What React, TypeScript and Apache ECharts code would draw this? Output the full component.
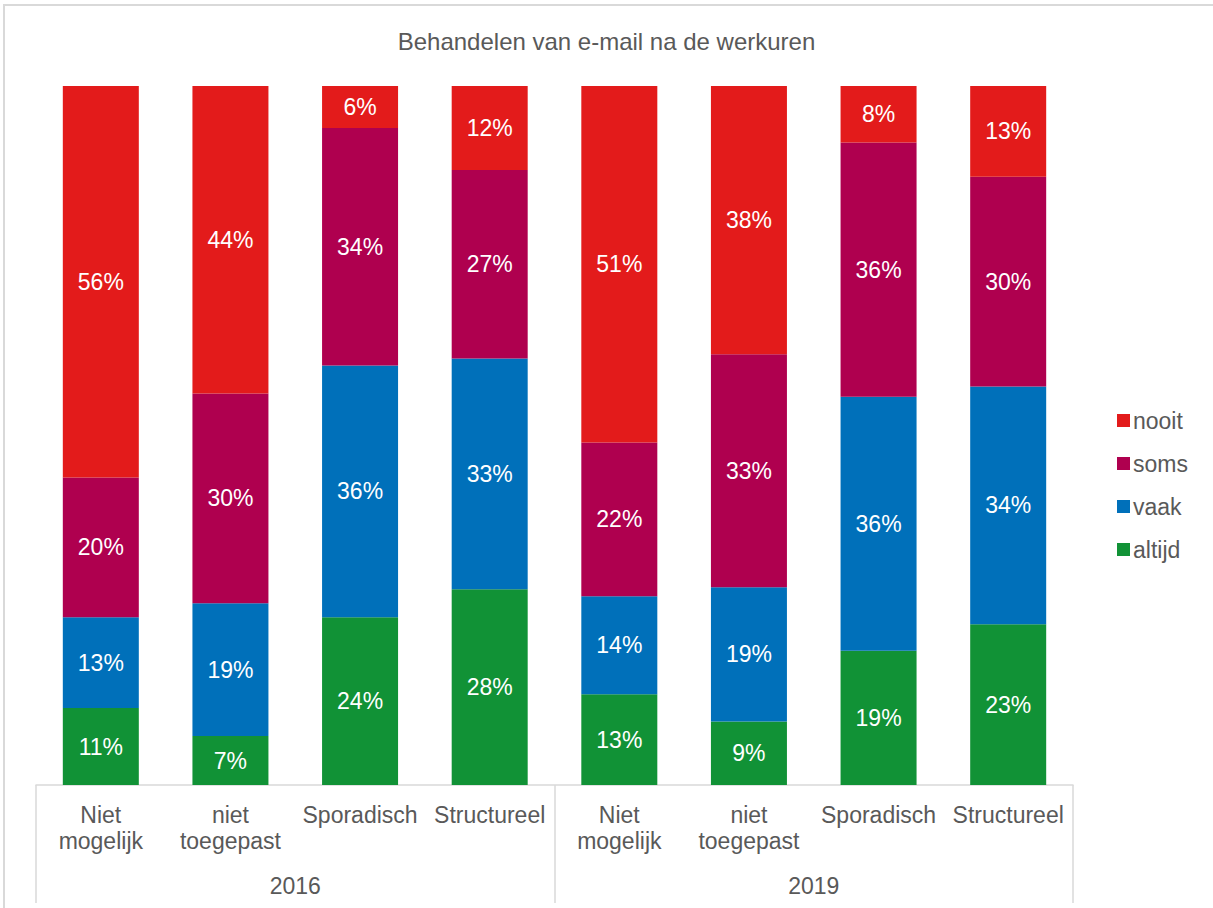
import React, { useEffect, useRef } from "react";
import * as echarts from "echarts";

const categories = [
  "Niet\nmogelijk",
  "niet\ntoegepast",
  "Sporadisch",
  "Structureel",
  "Niet\nmogelijk",
  "niet\ntoegepast",
  "Sporadisch",
  "Structureel",
];
const years = ["2016", "2019"];

const altijd = [11, 7, 24, 28, 13, 9, 19, 23];
const vaak = [13, 19, 36, 33, 14, 19, 36, 34];
const soms = [20, 30, 34, 27, 22, 33, 36, 30];
const nooit = [56, 44, 6, 12, 51, 38, 8, 13];

const seriesDefs = [
  { name: "altijd", data: altijd, color: "#119236" },
  { name: "vaak", data: vaak, color: "#0070BA" },
  { name: "soms", data: soms, color: "#AF004F" },
  { name: "nooit", data: nooit, color: "#E31B1B" },
];

const TEXT = "#595959";
const FONT = "Liberation Sans, Arial, sans-serif";
const FS = 23;

export default function App() {
  const ref = useRef<HTMLDivElement>(null);

  useEffect(() => {
    if (!ref.current) return;
    const chart = echarts.init(ref.current, null, { renderer: "svg" });
    const totals = categories.map((_, i) =>
      seriesDefs.reduce((s, d) => s + d.data[i], 0)
    );
    chart.setOption({
      animation: false,
      backgroundColor: "#ffffff",
      textStyle: { fontFamily: FONT },
      title: {
        text: "Behandelen van e-mail na de werkuren",
        left: "center",
        top: 24,
        padding: [5, 5, 5, 19],
        textStyle: { color: TEXT, fontSize: 24, fontWeight: "normal", fontFamily: FONT },
      },
      graphic: [
        {
          type: "rect",
          shape: { x: 4, y: 5, width: 1220, height: 920 },
          style: { fill: "none", stroke: "#d9d9d9", lineWidth: 2 },
          silent: true,
        },
      ],
      legend: {
        orient: "vertical",
        left: 1117,
        top: 409,
        padding: 0,
        itemWidth: 13,
        itemHeight: 13,
        itemGap: 20,
        icon: "rect",
        data: ["nooit", "soms", "vaak", "altijd"],
        textStyle: { color: TEXT, fontSize: FS, fontFamily: FONT, padding: [0, 0, 0, -2] },
      },
      grid: { left: 36, right: 140, top: 86, bottom: 123, containLabel: false },
      xAxis: [
        {
          type: "category",
          data: categories,
          position: "bottom",
          axisLine: { show: true, lineStyle: { color: "#d9d9d9", width: 1.5 } },
          axisTick: { show: false },
          axisLabel: {
            interval: 0,
            color: TEXT,
            fontSize: FS,
            lineHeight: 26,
            margin: 17,
            fontFamily: FONT,
          },
        },
        {
          type: "category",
          data: years,
          position: "bottom",
          axisLine: { show: false },
          axisTick: {
            show: true,
            length: 118,
            interval: 0,
            lineStyle: { color: "#d9d9d9", width: 1.5 },
          },
          axisLabel: { color: TEXT, fontSize: FS, margin: 89, fontFamily: FONT },
        },
      ],
      yAxis: {
        type: "value",
        min: 0,
        max: 100,
        show: false,
        splitLine: { show: false },
      },
      series: seriesDefs.map((d) => ({
        name: d.name,
        type: "bar",
        stack: "total",
        xAxisIndex: 0,
        barWidth: 76,
        itemStyle: { color: d.color },
        data: d.data.map((v, i) => (v / totals[i]) * 100),
        label: {
          show: true,
          position: "inside",
          color: "#ffffff",
          fontSize: FS,
          fontFamily: FONT,
          formatter: (p: any) => `${d.data[p.dataIndex]}%`,
        },
      })),
    });
    return () => chart.dispose();
  }, []);

  return (
    <div
      ref={ref}
      style={{ position: "absolute", left: 0, top: 0, width: 1213, height: 908 }}
    />
  );
}
